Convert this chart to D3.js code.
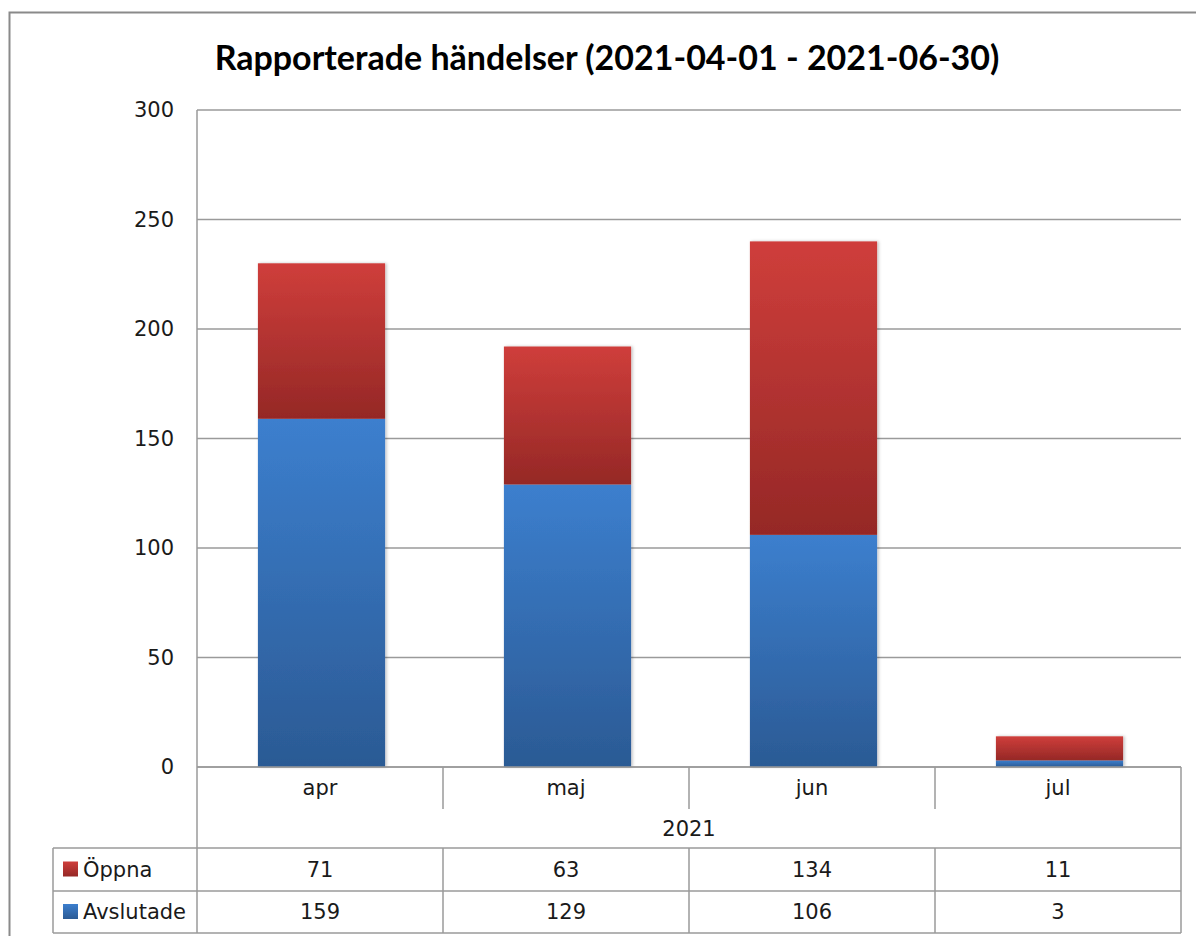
<!DOCTYPE html>
<html>
<head>
<meta charset="utf-8">
<script src="https://cdn.jsdelivr.net/npm/d3@7"></script>
<style>
  body { margin: 0; background: #fff; }
  svg text { font-family: "DejaVu Sans", Verdana, sans-serif; fill: #1a1a1a; }
</style>
</head>
<body>
<div id="chart"></div>
<script>
(function(d3) {
  'use strict';

  var months = ['apr', 'maj', 'jun', 'jul'];
  var year = '2021';
  var oppna = [71, 63, 134, 11];
  var avslutade = [159, 129, 106, 3];
  var yTicks = [0, 50, 100, 150, 200, 250, 300];
  var title = 'Rapporterade händelser (2021-04-01 - 2021-06-30)';

  var width = 1196, height = 936;
  var left = 197, right = 1181, top = 110, bottom = 767;
  var rowTick = 809, rowYear = 848, rowA = 891, rowB = 933;
  var tableLeft = 53;
  var grid = '#9a9a9a';
  var fs = '21px';

  var series = [
    {name: 'Avslutade', values: avslutade, id: 'blue', top: '#3c7fce', bot: '#2b5a94'},
    {name: 'Öppna', values: oppna, id: 'red', top: '#cf3e3b', bot: '#952826'}
  ];

  var svg = d3.select('#chart').append('svg')
    .attr('width', width)
    .attr('height', height);

  var defs = svg.append('defs');
  series.forEach(function(s) {
    var g = defs.append('linearGradient')
      .attr('id', 'grad-' + s.id)
      .attr('x1', 0).attr('y1', 0).attr('x2', 0).attr('y2', 1);
    g.append('stop').attr('offset', '0%').attr('stop-color', s.top);
    g.append('stop').attr('offset', '100%').attr('stop-color', s.bot);
  });
  var f = defs.append('filter').attr('id', 'shadow')
    .attr('x', '-10%').attr('y', '-10%').attr('width', '130%').attr('height', '130%');
  f.append('feDropShadow').attr('dx', 1.5).attr('dy', 0).attr('stdDeviation', 1.5)
    .attr('flood-color', '#000').attr('flood-opacity', 0.25);

  // outer chart border
  svg.append('rect')
    .attr('x', 9.5).attr('y', 12.5)
    .attr('width', width + 20).attr('height', height + 20)
    .attr('fill', 'none').attr('stroke', '#8a8a8a').attr('stroke-width', 2);

  svg.append('text')
    .attr('x', 607).attr('y', 58)
    .attr('dy', '0.35em')
    .attr('text-anchor', 'middle')
    .style('font-family', 'Lato, "Open Sans", sans-serif')
    .style('font-weight', 'bold')
    .style('font-size', '34px')
    .style('fill', '#000')
    .text(title);

  var x = d3.scaleBand().domain(months).range([left, right]).padding(0);
  var y = d3.scaleLinear().domain([0, 300]).range([bottom, top]);

  // gridlines
  svg.append('g').selectAll('line')
    .data(yTicks)
    .enter().append('line')
    .attr('x1', left).attr('x2', right)
    .attr('y1', function(d) { return y(d); })
    .attr('y2', function(d) { return y(d); })
    .attr('stroke', grid).attr('stroke-width', 1.5);

  svg.append('g').selectAll('text')
    .data(yTicks)
    .enter().append('text')
    .attr('x', 174)
    .attr('y', function(d) { return y(d); })
    .attr('dy', '0.35em')
    .attr('text-anchor', 'end')
    .style('font-size', fs)
    .text(function(d) { return d; });

  // stacked bars
  var stacked = months.map(function(m, i) {
    var base = 0;
    return series.map(function(s) {
      var seg = {month: m, s: s, y0: base, y1: base + s.values[i]};
      base = seg.y1;
      return seg;
    });
  });
  var barW = x.bandwidth() * 0.517;
  var off = (x.bandwidth() - barW) / 2 + 1.5;

  svg.append('g').selectAll('g')
    .data(stacked)
    .enter().append('g')
    .attr('filter', 'url(#shadow)')
    .selectAll('rect')
    .data(function(d) { return d; })
    .enter().append('rect')
    .attr('x', function(d) { return x(d.month) + off; })
    .attr('width', barW)
    .attr('y', function(d) { return y(d.y1); })
    .attr('height', function(d) { return y(d.y0) - y(d.y1); })
    .attr('fill', function(d) { return 'url(#grad-' + d.s.id + ')'; });

  // table lines
  var lines = svg.append('g').attr('stroke', grid).attr('stroke-width', 1.5);
  lines.append('line').attr('x1', left).attr('x2', left).attr('y1', top).attr('y2', rowB);
  lines.append('line').attr('x1', left).attr('x2', right).attr('y1', bottom).attr('y2', bottom);
  lines.append('line').attr('x1', right).attr('x2', right).attr('y1', bottom).attr('y2', rowB);
  lines.append('line').attr('x1', tableLeft).attr('x2', tableLeft).attr('y1', rowYear).attr('y2', rowB);
  [rowYear, rowA, rowB].forEach(function(r) {
    lines.append('line').attr('x1', tableLeft).attr('x2', right).attr('y1', r).attr('y2', r);
  });
  months.slice(1).forEach(function(m) {
    lines.append('line').attr('x1', x(m)).attr('x2', x(m)).attr('y1', bottom).attr('y2', rowTick);
    lines.append('line').attr('x1', x(m)).attr('x2', x(m)).attr('y1', rowYear).attr('y2', rowB);
  });

  var cx = function(m) { return x(m) + x.bandwidth() / 2; };

  svg.append('g').selectAll('text')
    .data(months)
    .enter().append('text')
    .attr('x', cx)
    .attr('y', 788)
    .attr('dy', '0.35em')
    .attr('text-anchor', 'middle')
    .style('font-size', fs)
    .text(function(d) { return d; });

  svg.append('text')
    .attr('x', (left + right) / 2)
    .attr('y', 829)
    .attr('dy', '0.35em')
    .attr('text-anchor', 'middle')
    .style('font-size', fs)
    .text(year);

  var rows = [
    {s: series[1], yc: (rowYear + rowA) / 2},
    {s: series[0], yc: (rowA + rowB) / 2}
  ];
  rows.forEach(function(r) {
    svg.append('rect')
      .attr('x', 63).attr('y', r.yc - 8)
      .attr('width', 15).attr('height', 15)
      .attr('fill', 'url(#grad-' + r.s.id + ')');
    svg.append('text')
      .attr('x', 83).attr('y', r.yc)
      .attr('dy', '0.35em')
      .style('font-size', fs)
      .text(r.s.name);
    svg.append('g').selectAll('text')
      .data(r.s.values)
      .enter().append('text')
      .attr('x', function(d, i) { return cx(months[i]); })
      .attr('y', r.yc)
      .attr('dy', '0.35em')
      .attr('text-anchor', 'middle')
      .style('font-size', fs)
      .text(function(d) { return d; });
  });
})(window.d3);
</script>
</body>
</html>
